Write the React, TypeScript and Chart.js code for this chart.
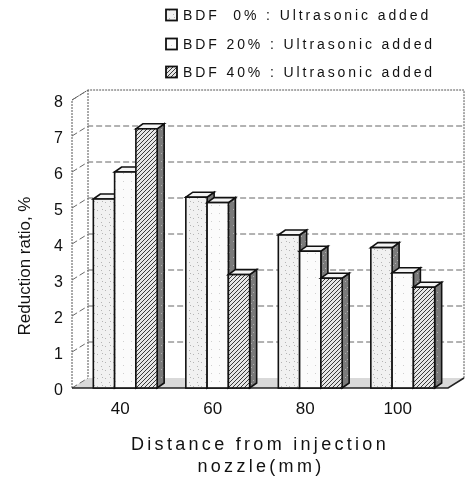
import React, { useEffect, useRef } from 'react';
import { Chart, registerables } from 'chart.js';

Chart.register(...registerables);

const categories = ['40', '60', '80', '100'];
const bdf0 = [5.25, 5.3, 4.25, 3.9];
const bdf20 = [6.0, 5.15, 3.8, 3.2];
const bdf40 = [7.2, 3.15, 3.05, 2.8];
const seriesLabels = [
  'BDF  0% : Ultrasonic added',
  'BDF 20% : Ultrasonic added',
  'BDF 40% : Ultrasonic added',
];
const yTickValues = [0, 1, 2, 3, 4, 5, 6, 7, 8];
const xTitleLines = ['Distance from injection', 'nozzle(mm)'];
const yTitle = 'Reduction ratio, %';

const FONT = '"Liberation Sans", Arial, sans-serif';

function makePattern(kind: string): CanvasPattern | string {
  const c = document.createElement('canvas');
  const size = kind === 'hatch' ? 4 : 8;
  c.width = size;
  c.height = size;
  const g = c.getContext('2d');
  if (!g) return '#eee';
  if (kind === 'stipple') {
    g.fillStyle = '#f1f1f1';
    g.fillRect(0, 0, size, size);
    g.fillStyle = '#b5b5b5';
    g.fillRect(1, 2, 1, 1);
    g.fillRect(5, 6, 1, 1);
    g.fillRect(6, 1, 1, 1);
  } else if (kind === 'white') {
    g.fillStyle = '#fbfbfb';
    g.fillRect(0, 0, size, size);
    g.fillStyle = '#d0d0d0';
    g.fillRect(3, 5, 1, 1);
  } else if (kind === 'hatch') {
    g.fillStyle = '#e6e6e6';
    g.fillRect(0, 0, size, size);
    g.strokeStyle = '#3a3a3a';
    g.lineWidth = 1;
    g.beginPath();
    g.moveTo(0, 4);
    g.lineTo(4, 0);
    g.moveTo(-1, 1);
    g.lineTo(1, -1);
    g.moveTo(3, 5);
    g.lineTo(5, 3);
    g.stroke();
  } else {
    g.fillStyle = '#7a7a7a';
    g.fillRect(0, 0, size, size);
    g.fillStyle = '#b0b0b0';
    g.fillRect(1, 1, 1, 1);
    g.fillRect(5, 4, 1, 1);
    g.fillRect(3, 7, 1, 1);
  }
  const p = g.createPattern(c, 'repeat');
  return p || '#eee';
}

const WALL_DX = 16;
const WALL_DY = -10;
const BAR_DX = 7;
const BAR_DY = -5;

export default function App() {
  const ref = useRef<HTMLCanvasElement | null>(null);

  useEffect(() => {
    const canvas = ref.current;
    if (!canvas) return;
    const fills = [makePattern('stipple'), makePattern('white'), makePattern('hatch')];
    const sideFill = makePattern('side');

    const framePlugin = {
      id: 'frame3d',
      beforeDatasetsDraw(chart: any) {
        const { ctx, chartArea } = chart;
        const ys = chart.scales.y;
        const L = chartArea.left - 7;
        const R = chartArea.right - 1;
        const T = chartArea.top;
        const B = chartArea.bottom;
        ctx.save();
        ctx.fillStyle = '#d9d9d9';
        ctx.beginPath();
        ctx.moveTo(L, B);
        ctx.lineTo(R, B);
        ctx.lineTo(R + WALL_DX, B + WALL_DY);
        ctx.lineTo(L + WALL_DX, B + WALL_DY);
        ctx.closePath();
        ctx.fill();
        ctx.strokeStyle = '#555';
        ctx.lineWidth = 1;
        ctx.setLineDash([2, 1]);
        ctx.beginPath();
        ctx.moveTo(L, B);
        ctx.lineTo(L, T);
        ctx.lineTo(L + WALL_DX, T + WALL_DY);
        ctx.lineTo(R + WALL_DX, T + WALL_DY);
        ctx.lineTo(R + WALL_DX, B + WALL_DY);
        ctx.moveTo(L + WALL_DX, T + WALL_DY);
        ctx.lineTo(L + WALL_DX, B + WALL_DY);
        ctx.stroke();
        ctx.setLineDash([6, 3]);
        ctx.strokeStyle = '#666';
        yTickValues.forEach((v) => {
          const y = ys.getPixelForValue(v);
          ctx.beginPath();
          ctx.moveTo(L, y);
          ctx.lineTo(L + WALL_DX, y + WALL_DY);
          if (v > 0 && v < 8) ctx.lineTo(R + WALL_DX, y + WALL_DY);
          ctx.stroke();
        });
        ctx.setLineDash([]);
        ctx.strokeStyle = '#222';
        ctx.lineWidth = 1.5;
        ctx.beginPath();
        ctx.moveTo(L, B);
        ctx.lineTo(R, B);
        ctx.lineTo(R + WALL_DX, B + WALL_DY);
        ctx.stroke();
        ctx.restore();
      },
      afterDatasetsDraw(chart: any) {
        const { ctx } = chart;
        ctx.save();
        ctx.strokeStyle = '#111';
        ctx.lineWidth = 1.6;
        ctx.lineJoin = 'miter';
        for (let i = 0; i < categories.length; i++) {
          for (let d = 0; d < 3; d++) {
            const el: any = chart.getDatasetMeta(d).data[i];
            if (!el) continue;
            const left = el.x - el.width / 2;
            const right = el.x + el.width / 2;
            const top = el.y;
            const base = el.base;
            ctx.fillStyle = sideFill;
            ctx.beginPath();
            ctx.moveTo(right, top);
            ctx.lineTo(right + BAR_DX, top + BAR_DY);
            ctx.lineTo(right + BAR_DX, base + BAR_DY);
            ctx.lineTo(right, base);
            ctx.closePath();
            ctx.fill();
            ctx.stroke();
            ctx.fillStyle = '#f4f4f4';
            ctx.beginPath();
            ctx.moveTo(left, top);
            ctx.lineTo(left + BAR_DX, top + BAR_DY);
            ctx.lineTo(right + BAR_DX, top + BAR_DY);
            ctx.lineTo(right, top);
            ctx.closePath();
            ctx.fill();
            ctx.stroke();
            ctx.fillStyle = fills[d];
            ctx.fillRect(left, top, right - left, base - top);
            ctx.strokeRect(left, top, right - left, base - top);
          }
        }
        ctx.restore();
      },
      afterDraw(chart: any) {
        const { ctx } = chart;
        ctx.save();
        const rows = [15, 44, 72];
        ctx.font = '14px ' + FONT;
        (ctx as any).letterSpacing = '2.9px';
        ctx.textAlign = 'left';
        ctx.textBaseline = 'middle';
        rows.forEach((y, k) => {
          ctx.fillStyle = fills[k];
          ctx.fillRect(166, y - 5.5, 11, 11);
          ctx.strokeStyle = '#111';
          ctx.lineWidth = 1.8;
          ctx.strokeRect(166, y - 5.5, 11, 11);
          ctx.fillStyle = '#111';
          ctx.fillText(seriesLabels[k], 183, y + 1);
        });
        ctx.font = '18px ' + FONT;
        (ctx as any).letterSpacing = '3.3px';
        ctx.textAlign = 'center';
        ctx.fillStyle = '#111';
        ctx.fillText(xTitleLines[0], 260, 445);
        ctx.fillText(xTitleLines[1], 261, 467);
        (ctx as any).letterSpacing = '0px';
        ctx.font = '17px ' + FONT;
        ctx.translate(25, 266);
        ctx.rotate(-Math.PI / 2);
        ctx.fillText(yTitle, 0, 0);
        ctx.restore();
      },
    };

    const chart = new Chart(canvas, {
      type: 'bar',
      data: {
        labels: categories,
        datasets: [
          { label: seriesLabels[0], data: bdf0, backgroundColor: fills[0] as any, borderColor: '#111', borderWidth: 1.6 },
          { label: seriesLabels[1], data: bdf20, backgroundColor: fills[1] as any, borderColor: '#111', borderWidth: 1.6 },
          { label: seriesLabels[2], data: bdf40, backgroundColor: fills[2] as any, borderColor: '#111', borderWidth: 1.6 },
        ],
      },
      options: {
        animation: false,
        responsive: false,
        maintainAspectRatio: false,
        devicePixelRatio: 1,
        layout: { padding: { left: 0, right: 16, top: 100, bottom: 61 } },
        datasets: { bar: { categoryPercentage: 0.69, barPercentage: 1.0 } },
        plugins: { legend: { display: false }, tooltip: { enabled: false } },
        scales: {
          x: {
            grid: { display: false, drawTicks: false },
            border: { display: false },
            ticks: { font: { family: FONT, size: 17 }, color: '#111', padding: 11, labelOffset: -5 },
            afterFit: (s: any) => { s.height = 30; },
          },
          y: {
            min: 0,
            max: 8,
            grid: { display: false, drawTicks: false },
            border: { display: false },
            ticks: { stepSize: 1, font: { family: FONT, size: 16 }, color: '#111', padding: 16, labelOffset: 3 },
            afterFit: (s: any) => { s.width = 79; },
          },
        },
      } as any,
      plugins: [framePlugin],
    });
    return () => chart.destroy();
  }, []);

  return (
    <div style={{ position: 'absolute', left: 0, top: 0, width: 465, height: 479, background: '#fff' }}>
      <canvas ref={ref} width={465} height={479} style={{ width: 465, height: 479, display: 'block' }} />
    </div>
  );
}
